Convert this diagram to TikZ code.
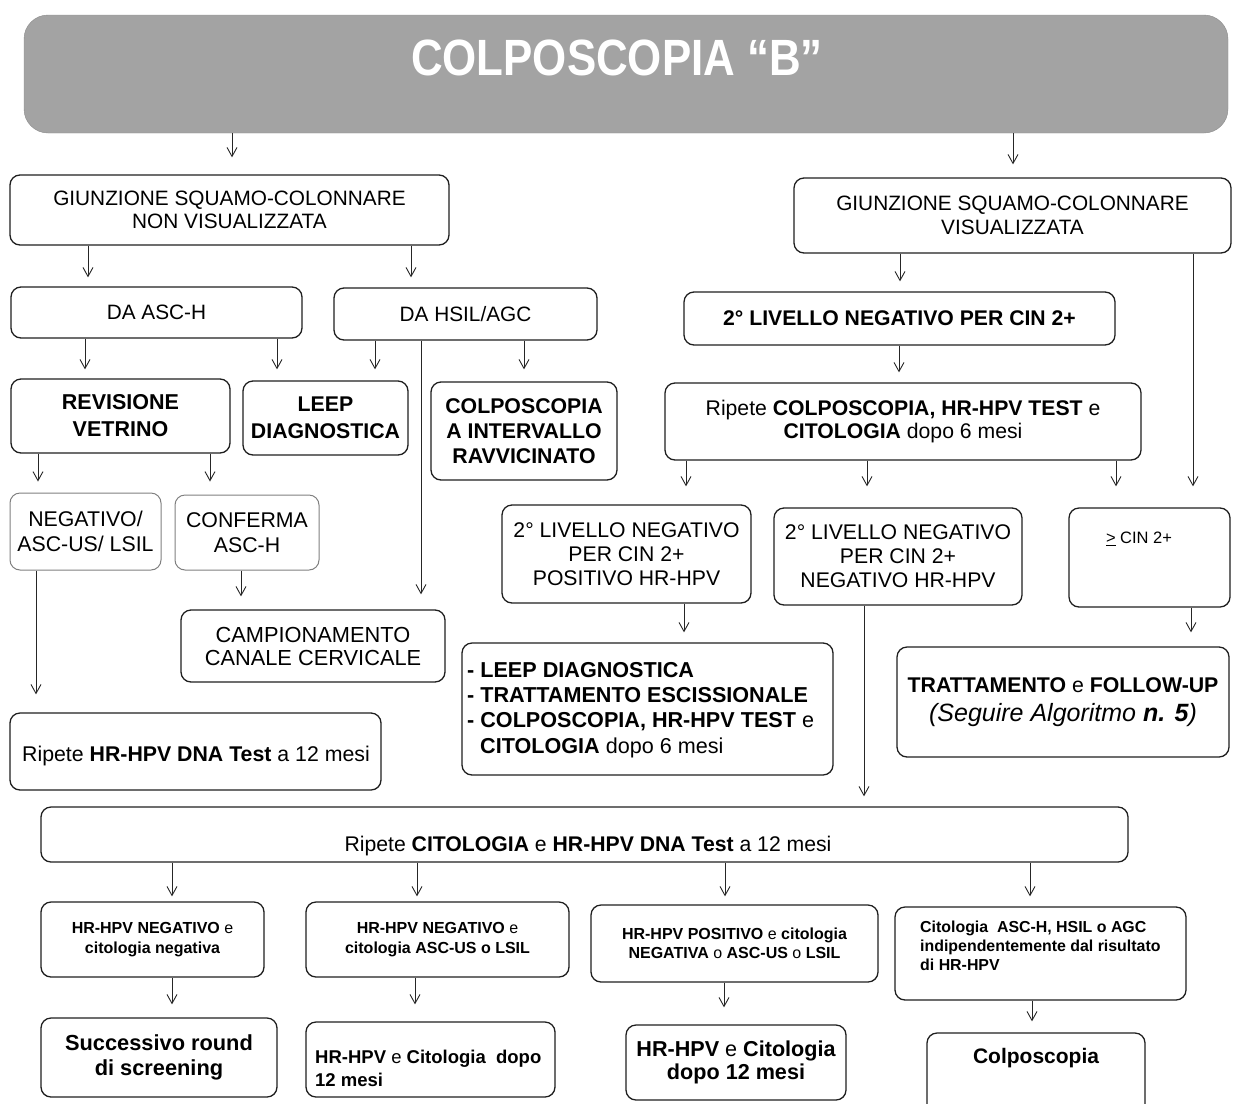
\documentclass[tikz,border=0pt]{standalone}
\usepackage{fontspec}
\usepackage{graphicx}
\setmainfont{Liberation Sans}
\usetikzlibrary{arrows.meta}
\newcommand\fs[2]{\fontsize{#1}{#2}\selectfont}
\newcommand\myarrow[4]{\draw[arr,shorten >=#4pt] (#1.south -| #3,0) -- (#2.north -| #3,0);}
\tikzset{
  box/.style={draw=black!88, line width=1.3pt, rounded corners=10pt, inner sep=0pt, align=center, fill=white},
  lbox/.style={draw=black!50, line width=1pt, rounded corners=10pt, inner sep=0pt, align=center, fill=white},
  arr/.style={draw=black!85, line width=0.9pt, -{Straight Barb[length=9pt,width=10pt,line width=0.9pt]}},
  txt/.style={inner sep=0pt, align=center},
}
\begin{document}
\begin{tikzpicture}[x=1pt,y=-1pt]
\useasboundingbox (0,0) rectangle (1233,1103);
% banner
\node[draw=black!45, fill=black!36, rounded corners=24pt, minimum width=1204pt, minimum height=118pt, inner sep=0pt] (banner) at (626,74) {};
\node[txt, text=white, font=\fs{51}{56}\bfseries] (title) at (617,58) {\scalebox{0.86}[1]{COLPOSCOPIA “B”}};

% left branch
\node[box, minimum width=439pt, minimum height=70pt, font=\fs{20.8}{23}] (gnv) at (229.5,210) {GIUNZIONE SQUAMO-COLONNARE\\NON VISUALIZZATA};
\node[box, minimum width=291pt, minimum height=51pt, font=\fs{20.8}{23}] (dac) at (156.5,312.5) {DA ASC-H};
\node[box, minimum width=263pt, minimum height=52pt, font=\fs{20.8}{23}] (dah) at (465.5,314) {DA HSIL/AGC};
\node[box, minimum width=219pt, minimum height=74pt, font=\fs{21.5}{27}\bfseries] (rev) at (120.5,416) {REVISIONE\\VETRINO};
\node[box, minimum width=165pt, minimum height=74pt, font=\fs{21.3}{27}\bfseries] (leep) at (325.5,418) {LEEP\\DIAGNOSTICA};
\node[box, minimum width=186pt, minimum height=98pt, font=\fs{21.3}{25}\bfseries] (colpi) at (524,431) {COLPOSCOPIA\\A INTERVALLO\\RAVVICINATO};
\node[lbox, minimum width=151pt, minimum height=77pt, font=\fs{21.3}{25}] (neg) at (85.5,531.5) {NEGATIVO/\\ASC-US/ LSIL};
\node[lbox, minimum width=144pt, minimum height=75pt, font=\fs{21.3}{25}] (conf) at (247,532.5) {CONFERMA\\ASC-H};
\node[box, minimum width=264pt, minimum height=72pt, font=\fs{21.8}{23}] (camp) at (313,646) {CAMPIONAMENTO\\CANALE CERVICALE};
\node[box, minimum width=371pt, minimum height=77pt] (rip1) at (195.5,751.5) {};
\node[txt, font=\fs{21.3}{25}] (rip1t) at (196,756) {Ripete \textbf{HR-HPV DNA Test} a 12 mesi};

% right branch
\node[box, minimum width=437pt, minimum height=75pt, font=\fs{20.8}{24}] (gv) at (1012.5,215.5) {GIUNZIONE SQUAMO-COLONNARE\\VISUALIZZATA};
\node[box, minimum width=431pt, minimum height=53pt, font=\fs{21.2}{24}\bfseries] (l2neg) at (899.5,318.5) {2° LIVELLO NEGATIVO PER CIN 2+};
\node[box, minimum width=476pt, minimum height=77pt, font=\fs{21.2}{23}] (ripc) at (903,421.5) {Ripete \textbf{COLPOSCOPIA, HR-HPV TEST} e\\\textbf{CITOLOGIA} dopo 6 mesi};
\node[box, minimum width=249pt, minimum height=98pt, font=\fs{21.2}{24}] (pos) at (626.5,554) {2° LIVELLO NEGATIVO\\PER CIN 2+\\POSITIVO HR-HPV};
\node[box, minimum width=248pt, minimum height=97pt, font=\fs{21.2}{24}] (negh) at (898,556.5) {2° LIVELLO NEGATIVO\\PER CIN 2+\\NEGATIVO HR-HPV};
\node[box, minimum width=161pt, minimum height=99pt] (cin) at (1149.5,557.5) {};
\node[txt, font=\fs{16.5}{20}] (cint) at (1139,539) {\underline{>} CIN 2+};
\node[box, minimum width=371pt, minimum height=132pt] (leepl) at (647.5,709) {};
\node[txt, align=left, anchor=west, font=\fs{21.6}{25.3}\bfseries] (leeplt) at (467,710) {- LEEP DIAGNOSTICA\\- TRATTAMENTO ESCISSIONALE\\- COLPOSCOPIA, HR-HPV TEST \mdseries e\\\hspace*{13pt}CITOLOGIA \mdseries dopo 6 mesi};
\node[box, minimum width=332pt, minimum height=110pt, font=\fs{21.3}{29}] (tratt) at (1063,702) {\textbf{TRATTAMENTO} e \textbf{FOLLOW-UP}\\{\fs{25}{29}\itshape (Seguire Algoritmo \textbf{n. 5})}};

% bottom
\node[box, minimum width=1087pt, minimum height=55pt] (ripcit) at (584.5,834.5) {};
\node[txt, font=\fs{21.2}{25}] (ripcitt) at (588,846) {Ripete \textbf{CITOLOGIA} e \textbf{HR-HPV DNA Test} a 12 mesi};
\node[box, minimum width=223pt, minimum height=75pt, font=\fs{16}{19.5}\bfseries] (b1) at (152.5,939.5) {HR-HPV NEGATIVO \mdseries e\\citologia negativa};
\node[box, minimum width=263pt, minimum height=75pt, font=\fs{16}{19.5}\bfseries] (b2) at (437.5,939.5) {HR-HPV NEGATIVO \mdseries e\\citologia ASC-US o LSIL};
\node[box, minimum width=287pt, minimum height=77pt, font=\fs{16}{19.5}\bfseries] (b3) at (734.5,943.5) {HR-HPV POSITIVO \mdseries e \bfseries citologia\\NEGATIVA \mdseries o \bfseries ASC-US \mdseries o \bfseries LSIL};
\node[box, minimum width=291pt, minimum height=93pt] (b4) at (1040.5,953.5) {};
\node[txt, align=left, anchor=north west, font=\fs{15.9}{19}\bfseries] (b4t) at (920,921) {Citologia\ \ ASC-H, HSIL o AGC\\indipendentemente dal risultato\\di HR-HPV};
\node[box, minimum width=236pt, minimum height=79pt, font=\fs{21.8}{25}\bfseries] (c1) at (159,1057.5) {Successivo round\\di screening};
\node[box, minimum width=249pt, minimum height=75pt] (c2) at (430.5,1059.5) {};
\node[txt, align=left, anchor=west, font=\fs{18.5}{23}\bfseries] (c2t) at (315,1068) {HR-HPV \mdseries e \bfseries Citologia\ \ dopo\\12 mesi};
\node[box, minimum width=220pt, minimum height=75pt, font=\fs{21.6}{23}\bfseries] (c3) at (736,1062.5) {HR-HPV \mdseries e \bfseries Citologia\\dopo 12 mesi};
\node[box, minimum width=218pt, minimum height=90pt] (c4) at (1036,1078) {};
\node[txt, font=\fs{21}{24}\bfseries] (c4t) at (1036,1058) {Colposcopia};

% arrows
\myarrow{banner}{gnv}{232}{17}
\myarrow{banner}{gv}{1013}{13}
\myarrow{gnv}{dac}{88}{9}
\myarrow{gnv}{dah}{411}{10}
\myarrow{dac}{rev}{85}{9}
\myarrow{dac}{leep}{277}{11}
\myarrow{dah}{leep}{375}{11}
\myarrow{dah}{colpi}{524}{12}
\myarrow{dah}{camp}{421}{15}
\myarrow{rev}{neg}{38}{11}
\myarrow{rev}{conf}{210}{13}
\myarrow{conf}{camp}{241}{13}
\myarrow{neg}{rip1}{36}{18}
\myarrow{gv}{l2neg}{900}{10}
\myarrow{gv}{cin}{1193}{21}
\myarrow{l2neg}{ripc}{899}{10}
\myarrow{ripc}{pos}{686}{18}
\myarrow{ripc}{negh}{867}{21}
\myarrow{ripc}{cin}{1116}{21}
\myarrow{pos}{leepl}{684}{10}
\myarrow{negh}{ripcit}{864}{10}
\myarrow{cin}{tratt}{1191}{14}
\myarrow{ripcit}{b1}{172}{5}
\myarrow{ripcit}{b2}{417}{5}
\myarrow{ripcit}{b3}{725}{8}
\myarrow{ripcit}{b4}{1030}{10}
\myarrow{b1}{c1}{172}{13}
\myarrow{b2}{c2}{415}{17}
\myarrow{b3}{c3}{724}{17}
\myarrow{b4}{c4}{1032}{11}
\end{tikzpicture}
\end{document}
